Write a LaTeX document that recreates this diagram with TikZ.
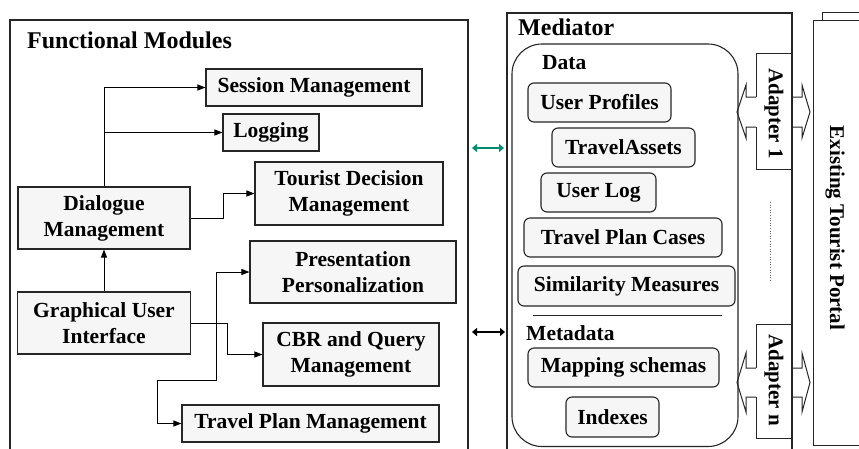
\documentclass[tikz,border=0pt]{standalone}
\usepackage{fontspec}
\setmainfont{Liberation Serif}
\usetikzlibrary{arrows.meta}
\newcommand\fsbody{\fontsize{21.5}{26}\selectfont}
\newcommand\fstitle{\fontsize{24}{28}\selectfont}
\definecolor{boxfill}{RGB}{246,246,246}
\definecolor{tealarrow}{RGB}{0,140,110}
\begin{document}
\begin{tikzpicture}[x=1pt,y=-1pt,
  box/.style={draw=black!85, line width=1.1pt, fill=boxfill, inner sep=0pt, align=center, font=\fsbody\bfseries},
  rbox/.style={box, rounded corners=6pt},
  frame/.style={draw=black!85, line width=1.1pt, inner sep=0pt},
  lbl/.style={anchor=base west, inner sep=0pt, font=\fsbody\bfseries},
  ttl/.style={anchor=base west, inner sep=0pt, font=\fstitle\bfseries},
  arr/.style={line width=0.9pt, -{Triangle[length=8pt,width=6pt]}},
  arrboth/.style={line width=0.9pt, {Triangle[length=8pt,width=6pt]}-{Triangle[length=8pt,width=6pt]}},
  thickarr/.style={line width=2.6pt, {Triangle[length=5pt,width=8pt]}-{Triangle[length=5pt,width=8pt]}},
  adapter/.style={draw=black!85, line width=1pt},
]
\useasboundingbox (0,0) rectangle (859,448);
\clip (0,0) rectangle (859,448);
\fill[white] (0,0) rectangle (859,448);

% ---------- Functional Modules ----------
\node[frame, minimum width=458pt, minimum height=460pt] (fm) at (239,250) {};
\node[ttl] (fmt) at (27,48) {Functional Modules};

\node[box, minimum width=216pt, minimum height=37pt] (sess) at (314,87.5) {Session Management};
\node[box, minimum width=96pt, minimum height=37pt] (log) at (271,132.5) {Logging};
\node[box, minimum width=188pt, minimum height=63pt] (tdm) at (349,193.5) {Tourist Decision\\Management};
\node[box, minimum width=172pt, minimum height=62pt] (dlg) at (104,218) {Dialogue\\Management};
\node[box, minimum width=206pt, minimum height=62pt] (pp) at (353,272) {Presentation\\Personalization};
\node[box, minimum width=173pt, minimum height=62pt] (gui) at (104,323) {Graphical User\\Interface};
\node[box, minimum width=176pt, minimum height=63pt] (cbr) at (351,354.5) {CBR and Query\\Management};
\node[box, minimum width=257pt, minimum height=37pt] (tpm) at (310.5,423.5) {Travel Plan Management};

\draw[arr] (dlg.north) |- (sess.west);
\draw[arr] (dlg.north |- log.west) -- (log.west);
\draw[arr] (dlg.east) -- (223,218) |- (tdm.west);
\draw[arr] (gui.north) -- (dlg.south);
\draw[arr] (gui.east) -- (227,323) |- (cbr.west);
\draw[arrboth] (pp.west) -| (216,380) -| (157,423.5) -- (tpm.west);

% ---------- Mediator ----------
\node[frame, minimum width=285pt, minimum height=460pt] (med) at (649.5,243) {};
\node[ttl] (medt) at (518,35) {Mediator};
\draw[draw=black!85, line width=1.1pt, fill=white, rounded corners=30pt] (512,44) rectangle (738,446.5);
\node[lbl] (datal) at (542,69) {Data};
\node[rbox, minimum width=143pt, minimum height=39pt] (up) at (599.5,102.5) {User Profiles};
\node[rbox, minimum width=143pt, minimum height=39pt] (ta) at (623.5,147.5) {TravelAssets};
\node[rbox, minimum width=115pt, minimum height=39pt] (ul) at (598.5,192.5) {User Log};
\node[rbox, minimum width=198pt, minimum height=39pt] (tpc) at (623,237.5) {Travel Plan Cases};
\node[rbox, minimum width=217pt, minimum height=40pt] (sm) at (626.5,286) {Similarity Measures};
\draw[line width=1pt, black!85] (533,315) -- (722,315);
\node[lbl] (metal) at (526,340) {Metadata};
\node[rbox, minimum width=191pt, minimum height=39pt] (ms) at (623.5,367.5) {Mapping schemas};
\node[rbox, minimum width=93pt, minimum height=40pt] (idx) at (612.5,417) {Indexes};

% arrows between panels
\draw[thickarr, tealarrow] (472,148) -- (504,148);
\draw[thickarr, black] (472,332) -- (505,332);

% ---------- Adapters ----------
\draw[adapter] (792,53) -- (756,53) -- (756,97);
\draw[adapter] (756,127) -- (756,169) -- (792,169);
\draw[adapter] (756,97) -- (746,97) -- (746,85) -- (737,112) -- (746,138) -- (746,127) -- (756,127);
\draw[adapter] (792,97) -- (802,97) -- (802,85) -- (810,112) -- (802,138) -- (802,127) -- (792,127);
\node[rotate=-90, inner sep=0pt, font=\fontsize{21}{26}\selectfont\bfseries] (ad1) at (774,113.5) {Adapter 1};

\draw[adapter] (792,324) -- (756,324) -- (756,368);
\draw[adapter] (756,397) -- (756,438) -- (792,438);
\draw[adapter] (756,368) -- (746,368) -- (746,353) -- (737,382.5) -- (746,412) -- (746,397) -- (756,397);
\draw[adapter] (792,368) -- (802,368) -- (802,353) -- (810,382.5) -- (802,412) -- (802,397) -- (792,397);
\node[rotate=-90, inner sep=0pt, font=\fontsize{21}{26}\selectfont\bfseries] (adn) at (774,380) {Adapter n};

\draw[black!60, line width=0.6pt, dotted] (770,202) -- (770,282);

% ---------- Existing Tourist Portal ----------
\draw[draw=black!85, line width=1pt, fill=white] (822,12) rectangle (880,430);
\draw[draw=black!85, line width=1pt, fill=white] (813,20) rectangle (880,445);
\node[rotate=-90, inner sep=0pt, font=\fontsize{21}{26}\selectfont\bfseries] (etp) at (835,228) {Existing Tourist Portal};
\end{tikzpicture}
\end{document}
